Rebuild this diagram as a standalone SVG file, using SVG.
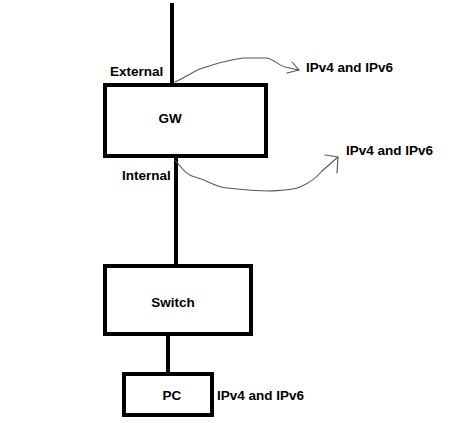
<svg xmlns="http://www.w3.org/2000/svg" width="474" height="423" viewBox="0 0 474 423">
<style>
.box{fill:#fff;stroke:#000;stroke-width:4}
.wire{stroke:#000;stroke-width:4;fill:none}
.curve{stroke:#555;stroke-width:1.1;fill:none;stroke-linejoin:round;stroke-linecap:round}
.t{font-family:"Liberation Sans",Arial,sans-serif;font-weight:bold;font-size:13.5px;fill:#000}
.c{text-anchor:middle;dominant-baseline:central}
</style>
<rect width="474" height="423" fill="#fff"/>
<g id="connectors">
<line class="wire" x1="172" y1="3" x2="172" y2="84"/>
<line class="wire" x1="176" y1="157" x2="176" y2="267"/>
<line class="wire" x1="168" y1="335" x2="168" y2="373"/>
<path class="curve" d="M175,82 C190,75 195,70 203,68 C220,62 230,60 243,58 L267,58 C275,60 280,66 285,67 L299,70"/>
<path class="curve" d="M292,62 L299,70 L287,73"/>
<path class="curve" d="M175,160 C182,168 186,175 195,177 C210,181 215,187 227,188 C245,190 255,191 270,191 C285,190 293,190 300,187 C312,182 318,176 322,171 L338,157"/>
<path class="curve" d="M325,155 L338,157 L337,173"/>
</g>
<g id="gw">
<rect class="box" x="105" y="85" width="161" height="71"/>
<text class="t c" x="170" y="118">GW</text>
</g>
<g id="switch">
<rect class="box" x="105" y="266" width="146" height="68"/>
<text class="t c" x="173" y="302">Switch</text>
</g>
<g id="pc">
<rect class="box" x="124" y="374" width="88" height="41"/>
<text class="t c" x="172" y="395">PC</text>
</g>
<g id="labels">
<text class="t" x="110" y="76">External</text>
<text class="t" x="122" y="180">Internal</text>
<text class="t" x="306" y="72">IPv4 and IPv6</text>
<text class="t" x="346" y="155">IPv4 and IPv6</text>
<text class="t" x="217" y="400">IPv4 and IPv6</text>
</g>
</svg>
